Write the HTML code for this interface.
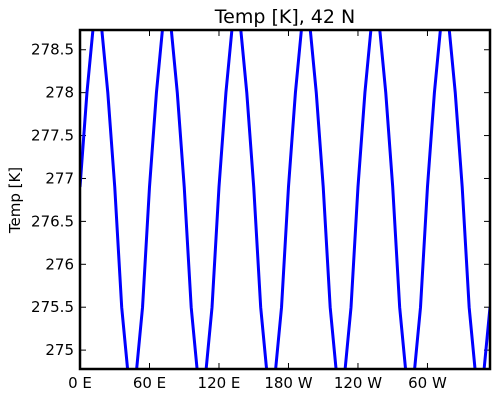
<!DOCTYPE html>
<html><head><meta charset="utf-8"><style>
body{margin:0;background:#fff;}
svg{display:block;font-family:"DejaVu Sans","Liberation Sans",sans-serif;}
</style></head><body>
<svg id="chart" width="500" height="400">
<text x="285" y="23" text-anchor="middle" font-size="19">Temp [K], 42 N</text>
<text transform="translate(20,200) rotate(-90)" text-anchor="middle" font-size="15">Temp [K]</text>
<defs><clipPath id="clip"><rect x="80" y="30" width="410" height="339"/></clipPath></defs>
<g id="ticks"></g>
<path id="line" clip-path="url(#clip)" fill="none" stroke="#0000ff" stroke-width="3" stroke-linejoin="round"/>
<rect x="80" y="30" width="410" height="339" fill="none" stroke="#000" stroke-width="2.5"/>
</svg>
<script>
const xTickValues=[0,60,120,180,240,300];
const xTickLabels=["0 E","60 E","120 E","180 W","120 W","60 W"];
const yTickValues=[275,275.5,276,276.5,277,277.5,278,278.5];
const yTickLabels=["275","275.5","276","276.5","277","277.5","278","278.5"];
const lons=[0,6,12,18,24,30,36,42,48,54,60,66,72,78,84,90,96,102,108,114,120,126,132,138,144,150,156,162,168,174,180,186,192,198,204,210,216,222,228,234,240,246,252,258,264,270,276,282,288,294,300,306,312,318,324,330,336,342,348,354];
const temps=[276.9,278.0,278.85,278.85,278.0,276.9,275.5,274.65,274.65,275.5,
276.9,278.0,278.85,278.85,278.0,276.9,275.5,274.65,274.65,275.5,
276.9,278.0,278.85,278.85,278.0,276.9,275.5,274.65,274.65,275.5,
276.9,278.0,278.85,278.85,278.0,276.9,275.5,274.65,274.65,275.5,
276.9,278.0,278.85,278.85,278.0,276.9,275.5,274.65,274.65,275.5,
276.9,278.0,278.85,278.85,278.0,276.9,275.5,274.65,274.65,275.5];
const L=80,R=490,T=30,B=369,xMin=0,xMax=354,yMin=274.78,yMax=278.73;
const sx=v=>L+(v-xMin)/(xMax-xMin)*(R-L);
const sy=v=>B-(v-yMin)/(yMax-yMin)*(B-T);
const NS="http://www.w3.org/2000/svg";
const g=document.getElementById('ticks');
function mk(tag,attrs){const e=document.createElementNS(NS,tag);for(const k in attrs)e.setAttribute(k,attrs[k]);return e;}
xTickValues.forEach((v,i)=>{
 const x=sx(v);
 const t1=mk('line',{x1:x,x2:x,y1:B,y2:B-6,stroke:'#000'});
 
 
 g.appendChild(t1);
 const t2=mk('line',{x1:x,x2:x,y1:T,y2:T+6,stroke:'#000'});
 
 
 g.appendChild(t2);
 const tx=mk('text',{x:x,y:388,'text-anchor':'middle','font-size':15});
 tx.textContent=xTickLabels[i];
 
 
 g.appendChild(tx);
});
yTickValues.forEach((v,i)=>{
 const y=sy(v);
 const t1=mk('line',{x1:L,x2:L+6,y1:y,y2:y,stroke:'#000'});
 
 
 g.appendChild(t1);
 const t2=mk('line',{x1:R,x2:R-6,y1:y,y2:y,stroke:'#000'});
 
 
 g.appendChild(t2);
 const tx=mk('text',{x:74,y:y+5,'text-anchor':'end','font-size':15});
 tx.textContent=yTickLabels[i];
 
 
 g.appendChild(tx);
});
document.getElementById('line').setAttribute('d',lons.map((v,i)=>(i?'L':'M')+sx(v).toFixed(2)+','+sy(temps[i]).toFixed(2)).join(''));
</script>
</body></html>
